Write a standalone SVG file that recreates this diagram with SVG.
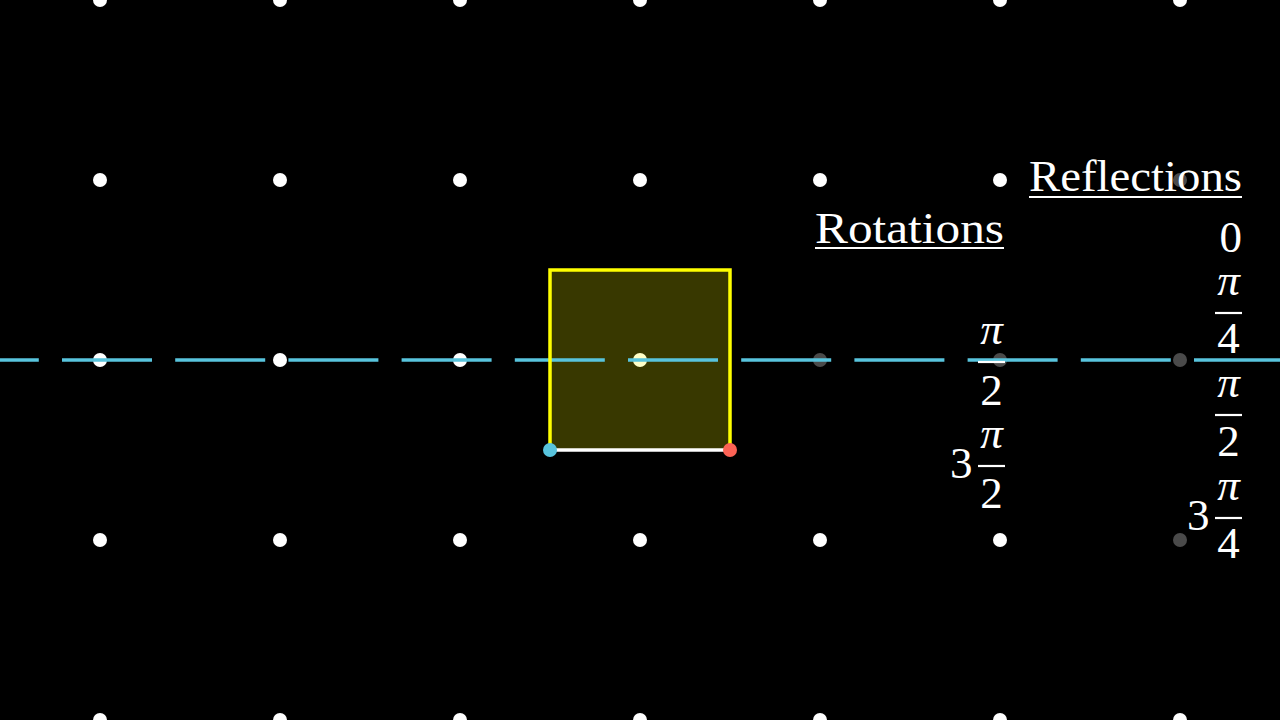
<svg xmlns="http://www.w3.org/2000/svg" width="1280" height="720" viewBox="0 0 1280 720">
<style>
.dot{fill:#ffffff}
.dim{fill:#4a4a4a}
.t{font-family:"Liberation Serif","DejaVu Serif",serif;font-size:45px;fill:#ffffff}
.pi{font-style:italic}
.bar{stroke:#ffffff;stroke-width:2.2}
</style>
<rect x="0" y="0" width="1280" height="720" fill="#000000"/>
<g id="grid">
<circle class="dot" cx="100" cy="0" r="7"/><circle class="dot" cx="280" cy="0" r="7"/><circle class="dot" cx="460" cy="0" r="7"/><circle class="dot" cx="640" cy="0" r="7"/><circle class="dot" cx="820" cy="0" r="7"/><circle class="dot" cx="1000" cy="0" r="7"/><circle class="dot" cx="1180" cy="0" r="7"/>
<circle class="dot" cx="100" cy="180" r="7"/><circle class="dot" cx="280" cy="180" r="7"/><circle class="dot" cx="460" cy="180" r="7"/><circle class="dot" cx="640" cy="180" r="7"/><circle class="dot" cx="820" cy="180" r="7"/><circle class="dot" cx="1000" cy="180" r="7"/><circle class="dim" cx="1180" cy="180" r="7"/>
<circle class="dot" cx="100" cy="360" r="7"/><circle class="dot" cx="280" cy="360" r="7"/><circle class="dot" cx="460" cy="360" r="7"/><circle class="dot" cx="640" cy="360" r="7"/><circle class="dim" cx="820" cy="360" r="7"/><circle class="dim" cx="1000" cy="360" r="7"/><circle class="dim" cx="1180" cy="360" r="7"/>
<circle class="dot" cx="100" cy="540" r="7"/><circle class="dot" cx="280" cy="540" r="7"/><circle class="dot" cx="460" cy="540" r="7"/><circle class="dot" cx="640" cy="540" r="7"/><circle class="dot" cx="820" cy="540" r="7"/><circle class="dot" cx="1000" cy="540" r="7"/><circle class="dim" cx="1180" cy="540" r="7"/>
<circle class="dot" cx="100" cy="720" r="7"/><circle class="dot" cx="280" cy="720" r="7"/><circle class="dot" cx="460" cy="720" r="7"/><circle class="dot" cx="640" cy="720" r="7"/><circle class="dot" cx="820" cy="720" r="7"/><circle class="dot" cx="1000" cy="720" r="7"/><circle class="dot" cx="1180" cy="720" r="7"/>
</g>
<g id="square-fill">
<rect x="550" y="270" width="180" height="180" fill="#ffff00" fill-opacity="0.22"/>
</g>
<g id="connectors">
<line x1="0" y1="360" x2="1280" y2="360" stroke="#58c4dd" stroke-width="3.5" stroke-dasharray="90 23.2" stroke-dashoffset="51.2"/>
</g>
<g id="square">
<path d="M550 450 V270 H730 V450" fill="none" stroke="#ffff00" stroke-width="3.5"/>
<line x1="550" y1="450" x2="730" y2="450" stroke="#ffffff" stroke-width="3.5"/>
<circle cx="550" cy="450" r="7" fill="#58c4dd"/>
<circle cx="730" cy="450" r="7" fill="#fc6255"/>
</g>
<g id="reflections">
<text class="t" x="1029" y="191" textLength="213" lengthAdjust="spacingAndGlyphs">Reflections</text>
<line class="bar" x1="1029" y1="197" x2="1242" y2="197"/>
<text class="t" x="1242" y="252" text-anchor="end">0</text>
<text class="t pi" x="1228.5" y="295" text-anchor="middle">π</text>
<line class="bar" x1="1215" y1="313" x2="1242" y2="313"/>
<text class="t" x="1228.5" y="353" text-anchor="middle">4</text>
<text class="t pi" x="1228.5" y="397" text-anchor="middle">π</text>
<line class="bar" x1="1215" y1="415" x2="1242" y2="415"/>
<text class="t" x="1228.5" y="456" text-anchor="middle">2</text>
<text class="t" x="1187" y="530">3</text>
<text class="t pi" x="1228.5" y="500" text-anchor="middle">π</text>
<line class="bar" x1="1215" y1="518" x2="1242" y2="518"/>
<text class="t" x="1228.5" y="558" text-anchor="middle">4</text>
</g>
<g id="rotations">
<text class="t" x="815" y="243" textLength="189" lengthAdjust="spacingAndGlyphs">Rotations</text>
<line class="bar" x1="815" y1="248" x2="1004" y2="248"/>
<text class="t pi" x="991.5" y="344" text-anchor="middle">π</text>
<line class="bar" x1="978" y1="362" x2="1005" y2="362"/>
<text class="t" x="991.5" y="405" text-anchor="middle">2</text>
<text class="t" x="950" y="478">3</text>
<text class="t pi" x="991.5" y="448" text-anchor="middle">π</text>
<line class="bar" x1="978" y1="466" x2="1005" y2="466"/>
<text class="t" x="991.5" y="508" text-anchor="middle">2</text>
</g>
</svg>
